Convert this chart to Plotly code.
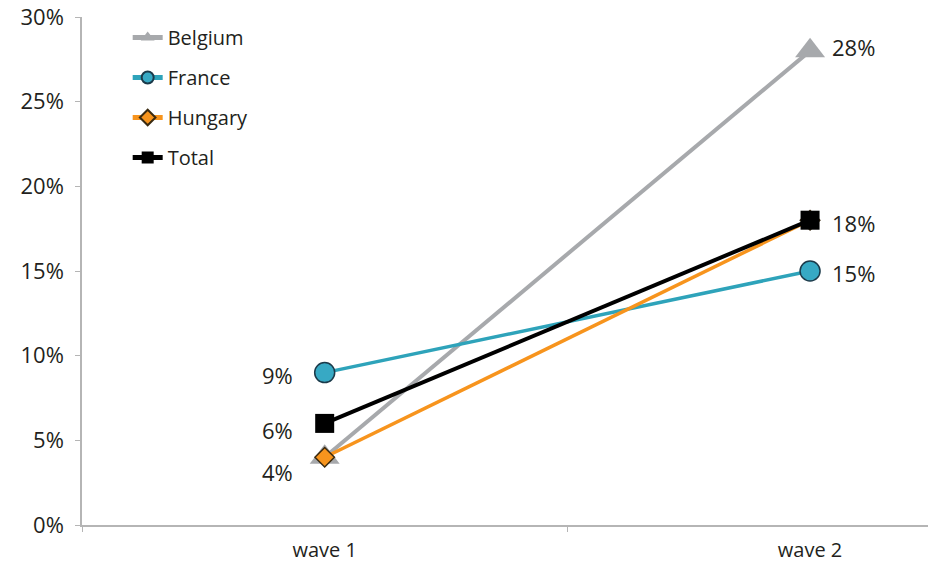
import plotly.graph_objects as go

# Survey share by wave
waves = ["wave 1", "wave 2"]
countries = ["Belgium", "France", "Hungary", "Total"]
belgium = [0.04, 0.28]
france = [0.09, 0.15]
hungary = [0.04, 0.18]
total = [0.06, 0.18]
values = {"Belgium": belgium, "France": france, "Hungary": hungary, "Total": total}

# Which series carries the value label at each wave
label_series = {
    "wave 1": ["France", "Total", "Belgium"],
    "wave 2": ["Belgium", "Total", "France"],
}

styles = {
    "Belgium": dict(color="#a7a9ac", width=4, symbol="triangle-up", size=26,
                    mcolor="#a7a9ac", lcolor="#a7a9ac", lw=0),
    "France": dict(color="#2ea3ba", width=3.5, symbol="circle", size=20,
                   mcolor="#37a9c4", lcolor="#1b3a4a", lw=1.5),
    "Hungary": dict(color="#f7941d", width=3.5, symbol="diamond", size=15,
                    mcolor="#f7941d", lcolor="#3a2a10", lw=1.5),
    "Total": dict(color="#000000", width=4, symbol="square", size=19,
                  mcolor="#000000", lcolor="#000000", lw=0),
}

# pixel nudges for the value labels: (xshift, yshift, xanchor)
label_offsets = {
    ("wave 1", "France"): (-30, -2, "right"),
    ("wave 1", "Total"): (-30, -7, "right"),
    ("wave 1", "Belgium"): (-30, -15, "right"),
    ("wave 2", "Belgium"): (20, 4, "left"),
    ("wave 2", "Total"): (20, -3, "left"),
    ("wave 2", "France"): (20, -2, "left"),
}

font_family = "Open Sans, sans-serif"
text_color = "#231f20"

fig = go.Figure()
for name in countries:
    s = styles[name]
    fig.add_trace(go.Scatter(
        x=waves, y=values[name], name=name, mode="lines+markers",
        legendgroup=name,
        line=dict(color=s["color"], width=s["width"]),
        marker=dict(symbol=s["symbol"], size=s["size"], color=s["mcolor"],
                    line=dict(color=s["lcolor"], width=s["lw"])),
        cliponaxis=False,
    ))

annotations = []
for wave_idx, wave in enumerate(waves):
    for name in label_series[wave]:
        v = values[name][wave_idx]
        xs, ys, xa = label_offsets[(wave, name)]
        annotations.append(dict(
            x=wave, y=v, xref="x", yref="y", text=f"{round(v * 100)}%",
            showarrow=False, xanchor=xa, yanchor="middle",
            xshift=xs, yshift=ys,
            font=dict(family=font_family, size=22, color=text_color),
        ))

fig.update_layout(
    width=928, height=565,
    margin=dict(l=82, r=0, t=17, b=40),
    paper_bgcolor="white", plot_bgcolor="white",
    showlegend=True,
    legend=dict(
        x=0.054, y=0.998, xanchor="left", yanchor="top",
        bgcolor="rgba(0,0,0,0)", tracegroupgap=11, itemsizing="constant",
        font=dict(family=font_family, size=20, color=text_color),
    ),
    xaxis=dict(
        type="category", range=[-0.5, 1.243], tickson="boundaries",
        ticks="outside", ticklen=5, tickcolor="#b5b5b5",
        ticklabelstandoff=6,
        showline=True, linecolor="#b5b5b5", linewidth=1.5,
        showgrid=False, zeroline=False,
        tickfont=dict(family="Liberation Sans Narrow, Open Sans, sans-serif",
                      size=20, color=text_color),
    ),
    yaxis=dict(
        range=[0, 0.30], tickvals=[0, 0.05, 0.10, 0.15, 0.20, 0.25, 0.30],
        tickformat=".0%", ticks="outside", ticklen=5, tickcolor="#b5b5b5",
        ticklabelstandoff=7,
        showline=True, linecolor="#b5b5b5", linewidth=1.5,
        showgrid=False, zeroline=False,
        tickfont=dict(family=font_family, size=22, color=text_color),
    ),
    annotations=annotations,
)

fig.write_html("out.html")
